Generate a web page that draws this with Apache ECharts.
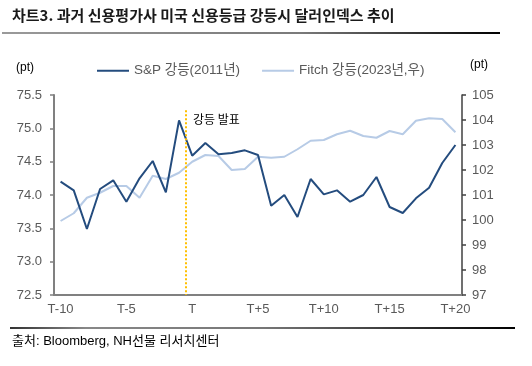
<!DOCTYPE html>
<html>
<head>
<meta charset="utf-8">
<script src="https://cdn.jsdelivr.net/npm/echarts@6/dist/echarts.min.js"></script>
<style>
html,body{margin:0;padding:0;background:#fff;}
#chart{width:532px;height:366px;}
</style>
</head>
<body>
<div id="chart"></div>
<script>
const categories = ['T-10','T-9','T-8','T-7','T-6','T-5','T-4','T-3','T-2','T-1','T',
  'T+1','T+2','T+3','T+4','T+5','T+6','T+7','T+8','T+9','T+10',
  'T+11','T+12','T+13','T+14','T+15','T+16','T+17','T+18','T+19','T+20'];
const sp2011 = [74.20,74.07,73.49,74.09,74.22,73.90,74.25,74.51,74.04,75.12,74.59,
  74.78,74.61,74.63,74.67,74.60,73.84,74.00,73.67,74.24,74.01,
  74.07,73.90,74.00,74.27,73.82,73.73,73.95,74.11,74.48,74.75];
const fitch2023 = [99.96,100.27,100.89,101.09,101.36,101.36,100.89,101.77,101.64,101.89,102.33,
  102.60,102.56,102.00,102.04,102.53,102.49,102.53,102.83,103.17,103.20,
  103.43,103.57,103.36,103.29,103.56,103.43,103.97,104.07,104.04,103.51];
const seriesNames = ['S&P 강등(2011년)', 'Fitch 강등(2023년,우)'];
const eventIndex = 10;            // 'T' boundary
const eventLineTop = 75.27;       // left-axis value where the marker line starts
const leftAxis = {min: 72.5, max: 75.5, interval: 0.5};
const rightAxis = {min: 97, max: 105, interval: 1};

const FONT = "'Liberation Sans', 'Noto Sans CJK KR', sans-serif";
const chart = echarts.init(document.getElementById('chart'), null, {renderer: 'canvas'});
chart.setOption({
  animation: false,
  backgroundColor: '#ffffff',
  textStyle: {fontFamily: FONT},
  grid: {left: 54, right: 70, top: 95, bottom: 71, containLabel: false},
  legend: {
    left: 92, top: 59,
    icon: 'rect', itemWidth: 32, itemHeight: 2, itemGap: 22,
    textStyle: {fontSize: 13.5, color: '#595959', fontFamily: FONT},
    data: seriesNames
  },
  xAxis: [{
    type: 'category', data: categories, boundaryGap: true,
    axisLine: {lineStyle: {color: '#808080', width: 2}},
    axisTick: {interval: 4, length: 5, lineStyle: {color: '#808080', width: 1.5}},
    axisLabel: {interval: 4, color: '#595959', fontSize: 13, margin: 8, fontFamily: FONT},
    splitLine: {show: false}
  }, {
    type: 'value', min: 0, max: categories.length, show: false
  }],
  yAxis: [{
    type: 'value', position: 'left',
    min: leftAxis.min, max: leftAxis.max, interval: leftAxis.interval,
    axisLine: {show: true, lineStyle: {color: '#808080', width: 2}},
    axisTick: {show: true, length: 4, lineStyle: {color: '#808080', width: 1.5}},
    axisLabel: {color: '#595959', fontSize: 13, margin: 12, fontFamily: FONT,
      formatter: v => v.toFixed(1)},
    splitLine: {show: false}
  }, {
    type: 'value', position: 'right',
    min: rightAxis.min, max: rightAxis.max, interval: rightAxis.interval,
    axisLine: {show: true, lineStyle: {color: '#404040', width: 1.5}},
    axisTick: {show: true, length: 4, lineStyle: {color: '#404040', width: 1.5}},
    axisLabel: {color: '#595959', fontSize: 13, margin: 10, fontFamily: FONT},
    splitLine: {show: false}
  }],
  series: [{
    name: seriesNames[0], type: 'line', xAxisIndex: 0, yAxisIndex: 0,
    data: sp2011, symbol: 'none', z: 3,
    lineStyle: {color: '#244C7E', width: 2}, itemStyle: {color: '#244C7E'}
  }, {
    name: seriesNames[1], type: 'line', xAxisIndex: 0, yAxisIndex: 1,
    data: fitch2023, symbol: 'none', z: 2,
    lineStyle: {color: '#B7CBE6', width: 2}, itemStyle: {color: '#B7CBE6'}
  }, {
    name: 'event', type: 'line', xAxisIndex: 1, yAxisIndex: 0, data: [],
    markLine: {
      silent: true, symbol: ['none','none'], label: {show: false},
      lineStyle: {color: '#FFC000', type: 'dotted', width: 2},
      data: [[{coord: [eventIndex, eventLineTop]}, {coord: [eventIndex, leftAxis.min]}]]
    }
  }],
  graphic: [
    {type: 'text', left: 12, top: 8, style: {text: '차트3. 과거 신용평가사 미국 신용등급 강등시 달러인덱스 추이',
      fill: '#1a1a1a', font: "bold 15px 'Noto Sans CJK KR', sans-serif"}},
    {type: 'rect', shape: {x: 2, y: 32, width: 498, height: 2},
      style: {fill: new echarts.graphic.LinearGradient(0,0,1,0,[{offset:0,color:'#9a9a9a'},{offset:0.6,color:'#7a7a7a'},{offset:1,color:'#000'}])}},
    {type: 'text', left: 16, top: 62, style: {text: '(pt)', fill: '#000', font: "12px " + FONT}},
    {type: 'text', left: 470, top: 59, style: {text: '(pt)', fill: '#000', font: "12px " + FONT}},
    {type: 'text', left: 193, top: 113, style: {text: '강등 발표', fill: '#000', font: "12px 'Noto Sans CJK KR', sans-serif"}},
    {type: 'rect', shape: {x: 10, y: 327, width: 505, height: 2},
      style: {fill: new echarts.graphic.LinearGradient(0,0,1,0,[{offset:0,color:'#333'},{offset:0.15,color:'#888'},{offset:0.5,color:'#777'},{offset:1,color:'#000'}])}},
    {type: 'text', left: 12, top: 335, style: {text: '출처: Bloomberg, NH선물 리서치센터', fill: '#000', font: "13px " + FONT}}
  ]
});
</script>
</body>
</html>
